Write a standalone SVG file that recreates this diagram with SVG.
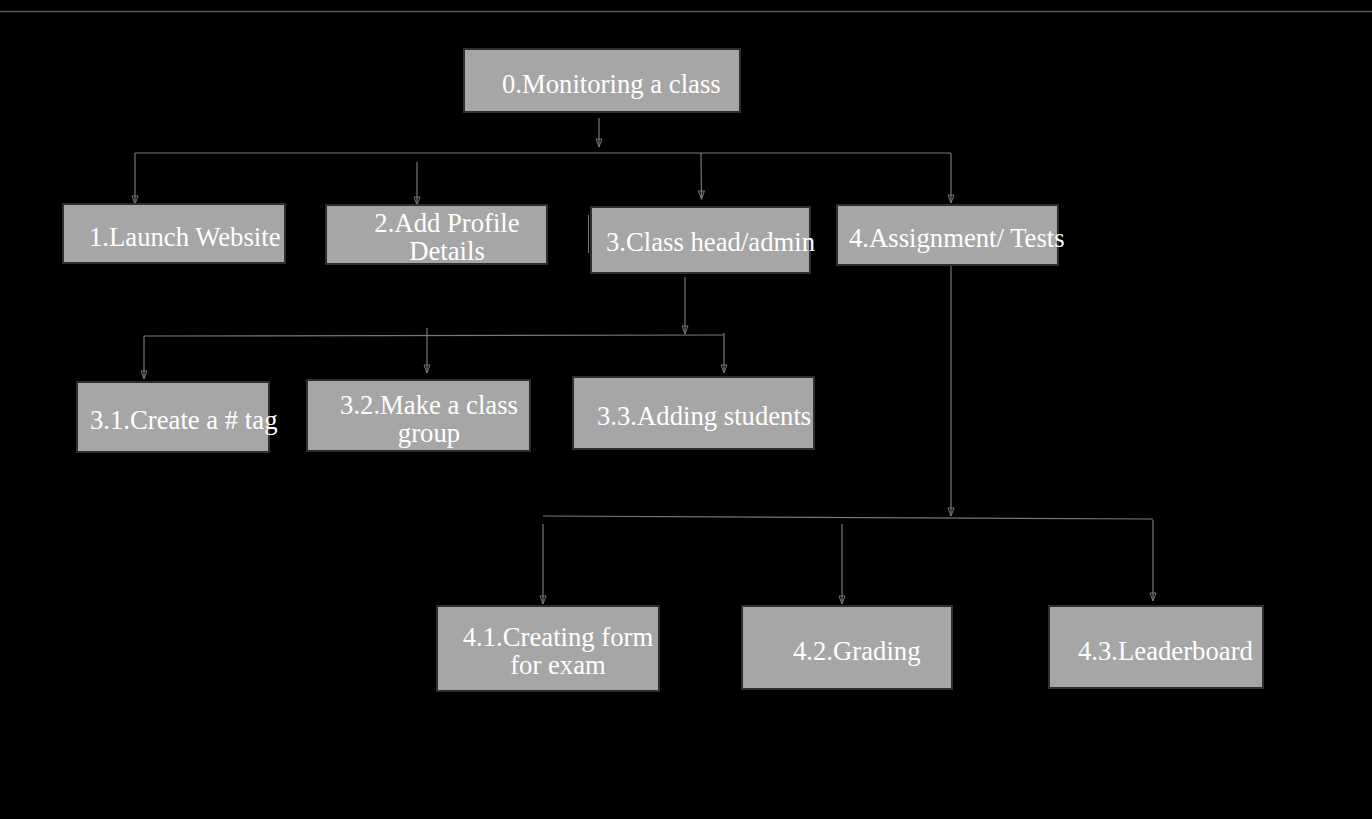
<svg xmlns="http://www.w3.org/2000/svg" width="1372" height="819" viewBox="0 0 1372 819">
<defs>
<marker id="arr" viewBox="0 0 10 8" refX="9" refY="4" markerWidth="10" markerHeight="8" markerUnits="userSpaceOnUse" orient="auto">
<path d="M1,1 L9,4 L1,7 Z" fill="none" stroke="#777" stroke-width="1"/>
</marker>
</defs>
<style>
.box{fill:#a6a6a6;stroke:#2e2e2e;stroke-width:2}
.t{font-family:"Liberation Serif","Times New Roman",serif;font-size:26.7px;fill:#ffffff}
.c{stroke:#777;stroke-width:1.2;fill:none}
.a{stroke:#777;stroke-width:1.2;fill:none;marker-end:url(#arr)}
</style>
<rect width="1372" height="819" fill="#000"/>
<line x1="0" y1="11.5" x2="1372" y2="11.5" stroke="#555" stroke-width="1.5"/>
<g id="connectors">
<line class="a" x1="599" y1="118" x2="599" y2="147"/>
<line class="c" x1="135" y1="153" x2="951" y2="153"/>
<line class="a" x1="135" y1="153" x2="135" y2="204"/>
<line class="a" x1="417" y1="162" x2="417" y2="205"/>
<line class="a" x1="701" y1="153" x2="701.5" y2="199"/>
<line class="a" x1="951" y1="153" x2="951" y2="203"/>
<line class="a" x1="685" y1="277" x2="685" y2="334"/>
<line class="c" x1="144" y1="336" x2="724" y2="335"/>
<line class="a" x1="144" y1="336" x2="144" y2="379"/>
<line class="a" x1="427" y1="328" x2="427" y2="373"/>
<line class="a" x1="724" y1="333" x2="724" y2="373"/>
<line class="a" x1="951" y1="265" x2="951" y2="516"/>
<line class="c" x1="543" y1="516" x2="1153" y2="519"/>
<line class="a" x1="543" y1="524" x2="543" y2="604"/>
<line class="a" x1="842" y1="524" x2="842" y2="604"/>
<line class="a" x1="1153" y1="520" x2="1153" y2="601"/>
<line x1="588.5" y1="215" x2="588.5" y2="253" stroke="#777" stroke-width="1"/>
</g>
<g id="n0"><rect class="box" x="464" y="49" width="276" height="63"/><text class="t" x="502" y="93">0.Monitoring a class</text></g>
<g id="n1"><rect class="box" x="63" y="204" width="222" height="59"/><text class="t" x="89" y="246">1.Launch Website</text></g>
<g id="n2"><rect class="box" x="326" y="205" width="221" height="59"/><text class="t" x="447" y="232" text-anchor="middle">2.Add Profile</text><text class="t" x="447" y="260" text-anchor="middle">Details</text></g>
<g id="n3"><rect class="box" x="591" y="207" width="219" height="66"/><text class="t" x="606" y="251">3.Class head/admin</text></g>
<g id="n4"><rect class="box" x="837" y="205" width="221" height="60"/><text class="t" x="849" y="247">4.Assignment/ Tests</text></g>
<g id="n31"><rect class="box" x="77" y="382" width="192" height="70"/><text class="t" x="90" y="429">3.1.Create a # tag</text></g>
<g id="n32"><rect class="box" x="307" y="380" width="223" height="71"/><text class="t" x="429" y="414" text-anchor="middle">3.2.Make a class</text><text class="t" x="429" y="442" text-anchor="middle">group</text></g>
<g id="n33"><rect class="box" x="573" y="377" width="241" height="72"/><text class="t" x="597" y="425">3.3.Adding students</text></g>
<g id="n41"><rect class="box" x="437" y="606" width="222" height="85"/><text class="t" x="558" y="646" text-anchor="middle">4.1.Creating form</text><text class="t" x="558" y="674" text-anchor="middle">for exam</text></g>
<g id="n42"><rect class="box" x="742" y="606" width="210" height="83"/><text class="t" x="793" y="660">4.2.Grading</text></g>
<g id="n43"><rect class="box" x="1049" y="606" width="214" height="82"/><text class="t" x="1078" y="660">4.3.Leaderboard</text></g>
</svg>
